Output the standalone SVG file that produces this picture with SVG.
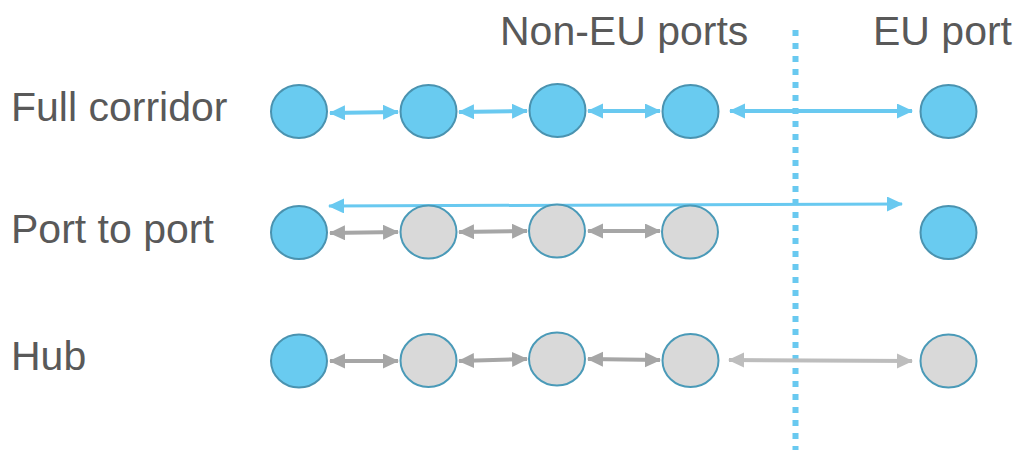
<svg xmlns="http://www.w3.org/2000/svg" width="1020" height="450" viewBox="0 0 1020 450">
  <style>
    .lbl { font-family: "Liberation Sans", Arial, sans-serif; font-size: 41px; fill: #595959; }
    .port { stroke-width: 2; }
    .blue { fill: #69CBF0; stroke: #4A93B0; }
    .grey { fill: #D9D9D9; stroke: #4A9AB8; }
    .ab { stroke: #69C9F0; stroke-width: 4; fill: none; marker-start: url(#hb); marker-end: url(#hb); }
    .ag { stroke: #A6A6A6; stroke-width: 4; fill: none; marker-start: url(#hg); marker-end: url(#hg); }
    .al { stroke: #BDBDBD; stroke-width: 4; fill: none; marker-start: url(#hl); marker-end: url(#hl); }
    .border { stroke: #69C9F0; stroke-width: 6; stroke-dasharray: 6 7; fill: none; }
  </style>
  <defs>
    <marker id="hb" markerUnits="userSpaceOnUse" markerWidth="18" markerHeight="16" refX="15" refY="7.5" orient="auto-start-reverse">
      <path d="M0,0 L16,7.5 L0,15 Z" fill="#69C9F0"/>
    </marker>
    <marker id="hg" markerUnits="userSpaceOnUse" markerWidth="18" markerHeight="16" refX="15" refY="7.5" orient="auto-start-reverse">
      <path d="M0,0 L16,7.5 L0,15 Z" fill="#A6A6A6"/>
    </marker>
    <marker id="hl" markerUnits="userSpaceOnUse" markerWidth="18" markerHeight="16" refX="15" refY="7.5" orient="auto-start-reverse">
      <path d="M0,0 L16,7.5 L0,15 Z" fill="#BDBDBD"/>
    </marker>
  </defs>

  <rect width="1020" height="450" fill="#FFFFFF"/>

  <!-- column and row headings -->
  <g id="headings">
    <text class="lbl" x="500" y="45">Non-EU ports</text>
    <text class="lbl" x="873" y="45">EU port</text>
    <text class="lbl" x="11" y="121">Full corridor</text>
    <text class="lbl" x="11" y="243">Port to port</text>
    <text class="lbl" x="11" y="370">Hub</text>
  </g>

  <!-- EU border -->
  <line id="border" class="border" x1="795.5" y1="30" x2="795.5" y2="450"/>

  <!-- links between ports -->
  <g id="connectors">
    <line class="ab" x1="330" y1="113" x2="398" y2="112"/>
    <line class="ab" x1="459" y1="112" x2="527" y2="111"/>
    <line class="ab" x1="588" y1="111" x2="660" y2="111"/>
    <line class="ab" x1="730" y1="111" x2="912" y2="111"/>

    <line class="ab" x1="329" y1="206" x2="902" y2="204" style="stroke-width:3"/>
    <line class="ag" x1="330" y1="233" x2="398" y2="232"/>
    <line class="ag" x1="459" y1="232" x2="527" y2="231"/>
    <line class="ag" x1="588" y1="231" x2="660" y2="231"/>

    <line class="ag" x1="330" y1="361" x2="398" y2="361"/>
    <line class="ag" x1="459" y1="361" x2="527" y2="359"/>
    <line class="ag" x1="588" y1="359" x2="660" y2="360"/>
    <line class="al" x1="729" y1="360" x2="912" y2="361"/>
  </g>

  <!-- Full corridor row -->
  <g id="fc1"><ellipse class="port blue" cx="299" cy="111.5" rx="28" ry="26.5"/></g>
  <g id="fc2"><ellipse class="port blue" cx="428.5" cy="111.5" rx="28" ry="26.5"/></g>
  <g id="fc3"><ellipse class="port blue" cx="557.5" cy="110.5" rx="28" ry="26.5"/></g>
  <g id="fc4"><ellipse class="port blue" cx="690.5" cy="111.5" rx="28" ry="26.5"/></g>
  <g id="fc5"><ellipse class="port blue" cx="948.5" cy="111.5" rx="28" ry="26.5"/></g>

  <!-- Port to port row -->
  <g id="pp1"><ellipse class="port blue" cx="299" cy="232.5" rx="28" ry="26.5"/></g>
  <g id="pp2"><ellipse class="port grey" cx="428.5" cy="232" rx="28" ry="26.5"/></g>
  <g id="pp3"><ellipse class="port grey" cx="557" cy="231" rx="28" ry="26.5"/></g>
  <g id="pp4"><ellipse class="port grey" cx="690" cy="232" rx="28" ry="26.5"/></g>
  <g id="pp5"><ellipse class="port blue" cx="948.5" cy="232.5" rx="28" ry="26.5"/></g>

  <!-- Hub row -->
  <g id="hb1"><ellipse class="port blue" cx="299" cy="361" rx="28" ry="26.5"/></g>
  <g id="hb2"><ellipse class="port grey" cx="428.5" cy="360.5" rx="28" ry="26.5"/></g>
  <g id="hb3"><ellipse class="port grey" cx="557" cy="359" rx="28" ry="26.5"/></g>
  <g id="hb4"><ellipse class="port grey" cx="690.5" cy="360.5" rx="28" ry="26.5"/></g>
  <g id="hb5"><ellipse class="port grey" cx="948.5" cy="361" rx="28" ry="26.5"/></g>
</svg>
